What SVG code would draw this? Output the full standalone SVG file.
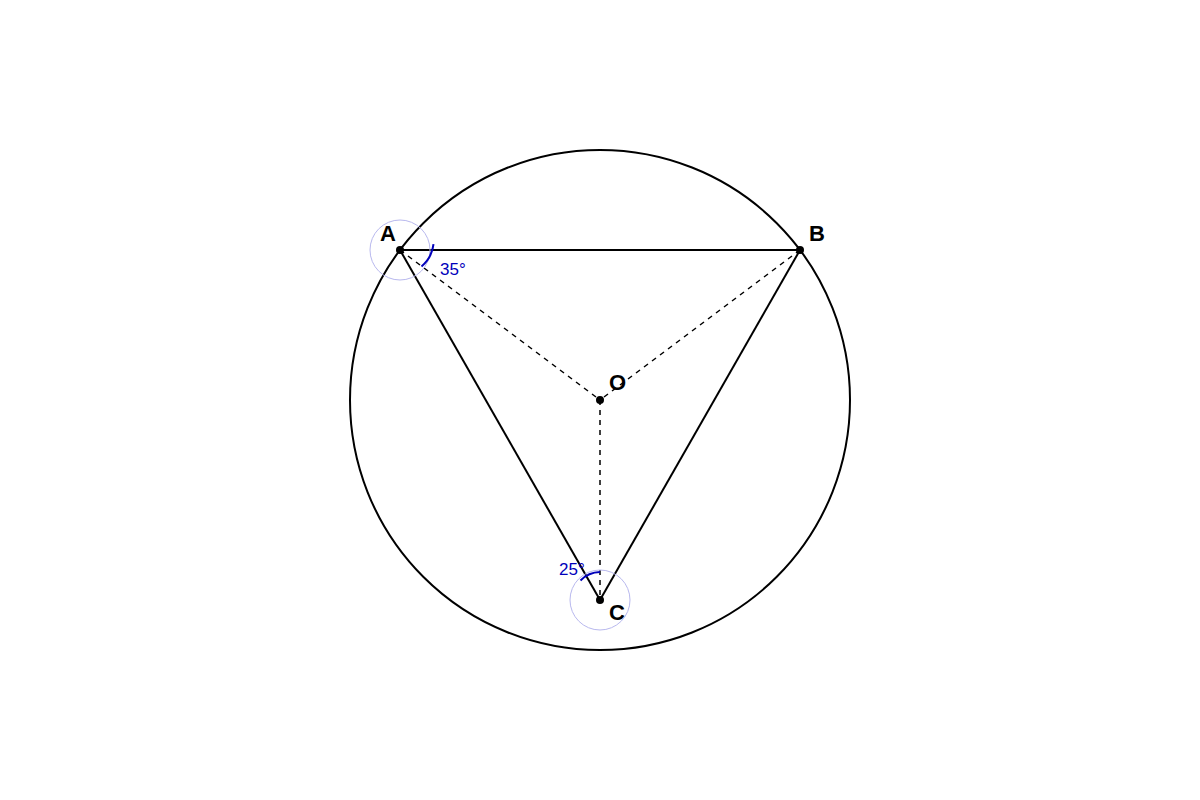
<svg xmlns="http://www.w3.org/2000/svg" width="1200" height="800" viewBox="0 0 1200 800">
<style>
.solid{stroke:#000;stroke-width:2;fill:none}
.dash{stroke:#000;stroke-width:1.5;fill:none;stroke-dasharray:5,5}
.pt{fill:#000}
.lbl{font-family:"Liberation Sans",Arial,sans-serif;font-size:22px;font-weight:bold;fill:#000}
.ang{font-family:"Liberation Sans",Arial,sans-serif;font-size:17px;fill:#0000bb}
.halo{fill:none;stroke:#b8b8ee;stroke-width:1}
.arc{fill:none;stroke:#0000bb;stroke-width:2}
</style>
<rect width="1200" height="800" fill="#fff"/>
<g id="circle"><circle cx="600" cy="400" r="250" class="solid"/></g>
<g id="connectors">
<line x1="400" y1="250" x2="800" y2="250" class="solid"/>
<line x1="400" y1="250" x2="600" y2="600" class="solid"/>
<line x1="800" y1="250" x2="600" y2="600" class="solid"/>
<line x1="400" y1="250" x2="600" y2="400" class="dash"/>
<line x1="800" y1="250" x2="600" y2="400" class="dash"/>
<line x1="600" y1="400" x2="600" y2="600" class="dash"/>
</g>
<g id="angleA">
<circle cx="400" cy="250" r="30" class="halo"/>
<path d="M 433.5 244.1 A 34 34 0 0 1 421.5 266.4" class="arc"/>
<text x="440" y="275" class="ang">35°</text>
</g>
<g id="angleC">
<circle cx="600" cy="600" r="30" class="halo"/>
<path d="M 580.5 580.5 A 28 28 0 0 1 600 572" class="arc"/>
<text x="559" y="575" class="ang">25°</text>
</g>
<g id="A"><circle cx="400" cy="250" r="4" class="pt"/><text x="380" y="241" class="lbl">A</text></g>
<g id="B"><circle cx="800" cy="250" r="4" class="pt"/><text x="809" y="241" class="lbl">B</text></g>
<g id="O"><circle cx="600" cy="400" r="4" class="pt"/><text x="609" y="390" class="lbl">O</text></g>
<g id="C"><circle cx="600" cy="600" r="4" class="pt"/><text x="609" y="620" class="lbl">C</text></g>
</svg>
